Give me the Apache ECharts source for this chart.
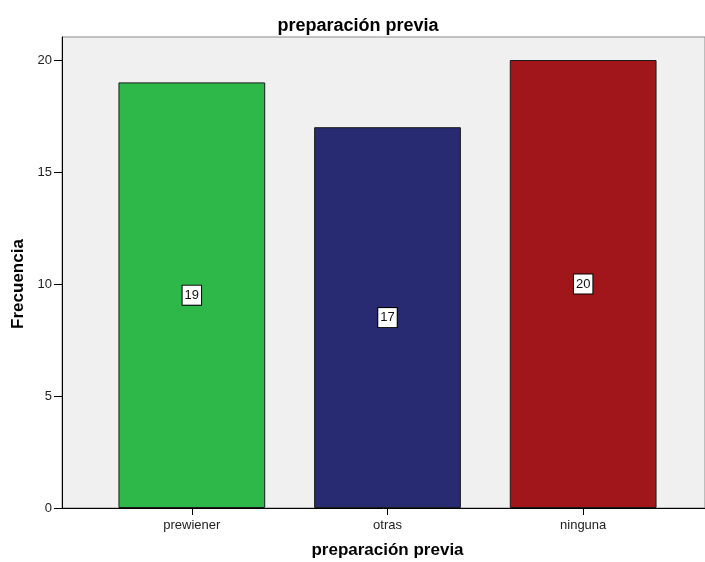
<!DOCTYPE html>
<html><head><meta charset="utf-8">
<script src="https://cdn.jsdelivr.net/npm/echarts@6/dist/echarts.min.js"></script>
<style>html,body{margin:0;padding:0;background:#fff}#c{width:705px;height:562px}</style>
</head><body><div id="c"></div>
<script>
const categories = ['prewiener', 'otras', 'ninguna'];
const values = [19, 17, 20];
const barColors = ['#2fb84a', '#282a72', '#a1161a'];
const yTicks = {min: 0, max: 20, interval: 5};
const titleText = 'preparación previa';
const xName = 'preparación previa';
const yName = 'Frecuencia';

const font = 'Liberation Sans, Arial, sans-serif';
const chart = echarts.init(document.getElementById('c'));
chart.setOption({
  animation: false,
  title: {text: titleText, left: 353, top: 12, textAlign: 'center',
    textStyle: {fontFamily: font, fontSize: 18, fontWeight: 'bold', color: '#000'}},
  grid: [
    {left: 62, right: 0, top: 37, bottom: 54, show: true, backgroundColor: '#f0f0f0', borderColor: '#8a8a8a', borderWidth: 1, outerBoundsMode: 'none', containLabel: false},
    {left: 94, right: 24, top: 60, bottom: 54, outerBoundsMode: 'none', containLabel: false}
  ],
  xAxis: [
    {gridIndex: 0, type: 'value', min: 0, max: 1, axisLine: {show: true, lineStyle: {color: '#000'}},
     axisTick: {show: false}, axisLabel: {show: false}, splitLine: {show: false}},
    {gridIndex: 1, type: 'category', data: categories, axisLine: {show: false},
     axisTick: {show: true, alignWithLabel: true, length: 7, lineStyle: {color: '#000'}},
     axisLabel: {fontFamily: font, fontSize: 13, color: '#222', margin: 11},
     name: xName, nameLocation: 'middle', nameGap: 34,
     nameTextStyle: {fontFamily: font, fontSize: 17, fontWeight: 'bold', color: '#000'}}
  ],
  yAxis: [
    {gridIndex: 0, type: 'value', min: 0, max: 1, axisLine: {show: true, lineStyle: {color: '#000'}},
     axisTick: {show: false}, axisLabel: {show: false}, splitLine: {show: false}},
    {gridIndex: 1, type: 'value', min: yTicks.min, max: yTicks.max, interval: yTicks.interval, offset: 32,
     axisLine: {show: false}, axisTick: {show: true, length: 8, lineStyle: {color: '#000'}},
     axisLabel: {fontFamily: font, fontSize: 13, color: '#222', margin: 10},
     splitLine: {show: false},
     name: yName, nameLocation: 'middle', nameGap: 32,
     nameTextStyle: {fontFamily: font, fontSize: 17, fontWeight: 'bold', color: '#000'}}
  ],
  series: [{
    type: 'bar', xAxisIndex: 1, yAxisIndex: 1,
    data: values.map((v, i) => ({value: v, itemStyle: {color: barColors[i]}})),
    barCategoryGap: '25%',
    itemStyle: {borderColor: '#1a1a1a', borderWidth: 1},
    label: {show: true, position: 'inside', fontFamily: font, fontSize: 13, color: '#111',
      backgroundColor: '#fff', borderColor: '#000', borderWidth: 1, padding: [3, 2, 3, 2]}
  }]
});
</script></body></html>
